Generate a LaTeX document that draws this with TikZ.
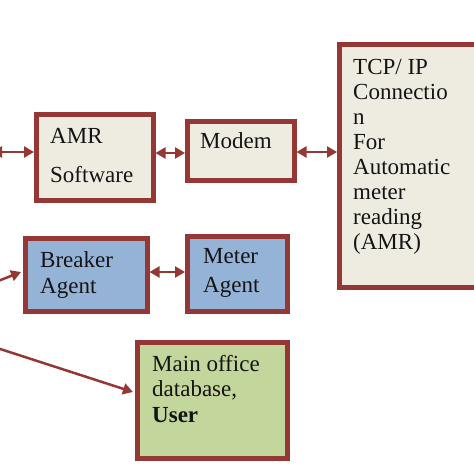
\documentclass[tikz,border=0pt]{standalone}
\usepackage{fontspec}
\setmainfont{Liberation Serif}
\usetikzlibrary{arrows.meta}
\definecolor{bord}{HTML}{953735}
\definecolor{beige}{HTML}{EEECE1}
\definecolor{blueb}{HTML}{95B3D7}
\definecolor{greenb}{HTML}{C3D69B}
\definecolor{ink}{HTML}{141414}
\tikzset{
  box/.style={draw=bord, line width=4.5pt, rectangle, inner sep=0pt, outer sep=2.25pt, anchor=north west},
  lbl/.style={anchor=base west, inner sep=0pt, text=ink, font=\fontsize{23}{25}\selectfont},
  arr/.style={draw=bord, line width=2.5pt, {Triangle[length=10pt,width=11pt]}-{Triangle[length=10pt,width=11pt]}},
  arrone/.style={draw=bord, line width=2.5pt, -{Triangle[length=10pt,width=11pt]}}
}
\begin{document}
\begin{tikzpicture}[x=1pt,y=-1pt]
\useasboundingbox (0,0) rectangle (474,474);
\clip (0,0) rectangle (474,474);
\fill[white] (0,0) rectangle (474,474);
% boxes
\node[box, fill=beige, minimum width=117pt, minimum height=86pt] (amr) at (34,112) {};
\node[box, fill=beige, minimum width=107pt, minimum height=59pt] (modem) at (185,119) {};
\node[box, fill=beige, minimum width=140pt, minimum height=243pt] (tcp) at (337,42) {};
\node[box, fill=blueb, minimum width=122pt, minimum height=73pt] (breaker) at (23,236) {};
\node[box, fill=blueb, minimum width=100pt, minimum height=75pt] (meter) at (185,234) {};
\node[box, fill=greenb, minimum width=150pt, minimum height=116pt] (office) at (135,340) {};
% helper coordinates
\coordinate (ya) at (0,153);
\coordinate (yb) at (0,152);
\coordinate (yc) at (0,272);
\coordinate (inA) at (-8,152);
\coordinate (inB) at (-12,285);
\coordinate (inC) at (-6,347);
\coordinate (endB) at (21,272);
\coordinate (endC) at (133,392);
% connectors
\draw[arr] (inA) -- (amr.west |- inA);
\draw[arr] (amr.east |- ya) -- (modem.west |- ya);
\draw[arr] (modem.east |- yb) -- (tcp.west |- yb);
\draw[arr] (breaker.east |- yc) -- (meter.west |- yc);
\draw[arrone] (inB) -- (endB);
\draw[arrone] (inC) -- (endC);
% labels
\node[lbl] (t1) at (50,143) {AMR};
\node[lbl] (t2) at (50,182) {Software};
\node[lbl] (t3) at (200,148) {Modem};
\node[lbl] (c1) at (353,74) {TCP/ IP};
\node[lbl] (c2) at (353,99) {Connectio};
\node[lbl] (c3) at (353,124) {n};
\node[lbl] (c4) at (353,149) {For};
\node[lbl] (c5) at (353,174) {Automatic};
\node[lbl] (c6) at (353,199) {meter};
\node[lbl] (c7) at (353,224) {reading};
\node[lbl] (c8) at (353,249) {(AMR)};
\node[lbl] (b1) at (40,267) {Breaker};
\node[lbl] (b2) at (40,293) {Agent};
\node[lbl] (m1) at (203,263) {Meter};
\node[lbl] (m2) at (203,292) {Agent};
\node[lbl] (o1) at (152,371) {Main office};
\node[lbl] (o2) at (152,396) {database,};
\node[lbl] (o3) at (152,422) {\textbf{User}};
\end{tikzpicture}
\end{document}
